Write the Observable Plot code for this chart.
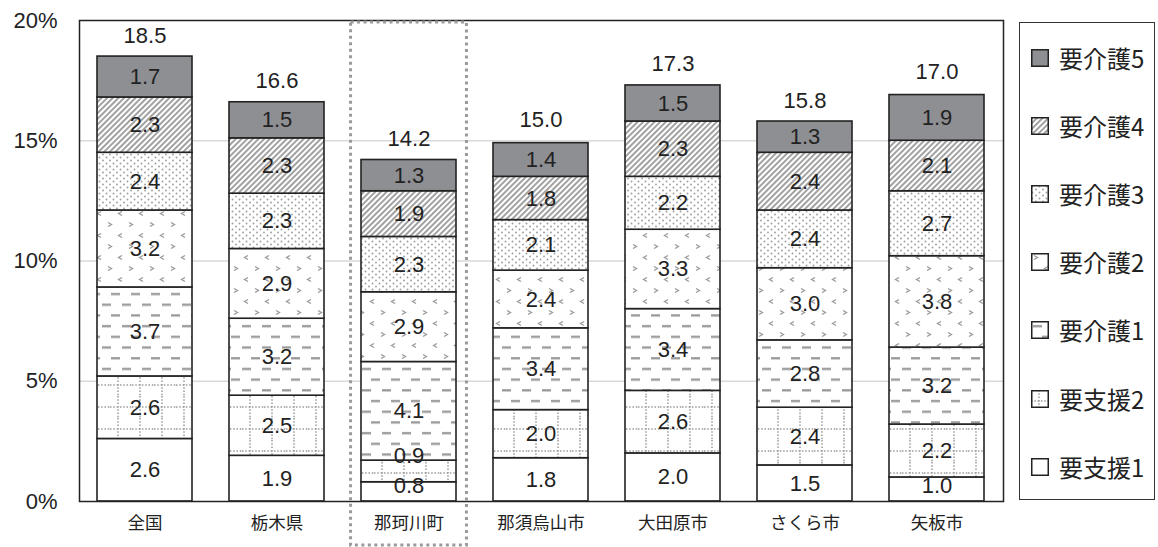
<!DOCTYPE html>
<html><head><meta charset="utf-8">
<script src="https://cdn.jsdelivr.net/npm/d3@7"></script>
<script src="https://cdn.jsdelivr.net/npm/@observablehq/plot@0.6"></script>
<style>
body{margin:0;background:#fff;}
#wrap{position:relative;width:1158px;height:547px;font-family:"Liberation Sans","Noto Sans CJK JP",Arial,sans-serif;color:#222;}
#legend{position:absolute;left:1019px;top:22px;width:136px;height:478px;border:1.5px solid #333;box-sizing:border-box;}
.li{position:absolute;left:11px;height:24px;display:flex;align-items:center;font-size:24px;line-height:24px;font-family:"Noto Sans CJK JP","Liberation Sans",sans-serif;}
.li svg{margin-right:10px;flex:none;}
</style>
</head><body>
<div id="wrap"><div id="legend"></div></div>
<script>
// ---- data ----
const regions = ["全国","栃木県","那珂川町","那須烏山市","大田原市","さくら市","矢板市"];
const levels = ["要支援1","要支援2","要介護1","要介護2","要介護3","要介護4","要介護5"]; // bottom -> top
const s_shien1 = [2.6, 1.9, 0.8, 1.8, 2.0, 1.5, 1.0];
const s_shien2 = [2.6, 2.5, 0.9, 2.0, 2.6, 2.4, 2.2];
const s_kaigo1 = [3.7, 3.2, 4.1, 3.4, 3.4, 2.8, 3.2];
const s_kaigo2 = [3.2, 2.9, 2.9, 2.4, 3.3, 3.0, 3.8];
const s_kaigo3 = [2.4, 2.3, 2.3, 2.1, 2.2, 2.4, 2.7];
const s_kaigo4 = [2.3, 2.3, 1.9, 1.8, 2.3, 2.4, 2.1];
const s_kaigo5 = [1.7, 1.5, 1.3, 1.4, 1.5, 1.3, 1.9];
const totals   = [18.5, 16.6, 14.2, 15.0, 17.3, 15.8, 17.0];
const highlight = "那珂川町";
const yTicks = [0, 5, 10, 15, 20];

const series = [s_shien1, s_shien2, s_kaigo1, s_kaigo2, s_kaigo3, s_kaigo4, s_kaigo5];
const rows = [];
levels.forEach((lv, li) => regions.forEach((r, ri) => rows.push({region: r, level: lv, value: series[li][ri]})));
const totalRows = regions.map((r, i) => ({region: r, total: totals[i]}));

const W = 1158, H = 547, mL = 79, mR = 155, mT = 20, mB = 46;
const yDomain = [0, 20];
const fills = ["#ffffff", "url(#pS2)", "url(#pK1)", "url(#pK2)", "url(#pK3)", "url(#pK4)", "#8e8f93"];
const FONT = '"Liberation Sans","Noto Sans CJK JP",Arial,sans-serif';

// ---- label placement: centred in segment, kept inside the bar, pushed up on overlap ----
const yScale = Plot.scale({y: {domain: yDomain, range: [H - mB, mT]}});
const LABEL_H = 28, GAP = 4;
const labelRows = [];
regions.forEach((r, ri) => {
  let base = 0;
  let limit = yScale.apply(0);
  levels.forEach((lv, li) => {
    const v = series[li][ri];
    const mid = yScale.apply(base + v / 2);
    const target = Math.min(mid, limit - LABEL_H / 2 - GAP / 2);
    limit = target - LABEL_H / 2;
    labelRows.push({region: r, level: lv, value: v, ly: yScale.invert(target)});
    base += v;
  });
});

const plot = Plot.plot({
  width: W, height: H,
  marginLeft: mL, marginRight: mR, marginTop: mT, marginBottom: mB,
  style: {fontFamily: FONT, color: "#222", background: "transparent"},
  x: {domain: regions, paddingInner: 0.28, paddingOuter: 0.14, label: null},
  y: {domain: yDomain, label: null},
  color: {type: "ordinal", domain: levels, range: fills},
  marks: [
    Plot.ruleY([5, 10, 15], {stroke: "#d9d9d9", strokeWidth: 1.5}),
    Plot.axisY(yTicks, {tickFormat: d => d + "%", tickSize: 0, tickPadding: 22, fontSize: 22, label: null}),
    Plot.axisX({tickSize: 0, tickPadding: 15, fontSize: 17.5, label: null, fontFamily: '"Noto Sans CJK JP",sans-serif'}),
    Plot.barY(rows, Plot.stackY({x: "region", y: "value", fill: "level", order: levels, stroke: "#222", strokeWidth: 1.6})),
    Plot.text(labelRows, {x: "region", y: "ly", text: d => d.value.toFixed(1), fontSize: 22, fill: "#222", ariaLabel: "seg-labels"}),
    Plot.text(totalRows, {x: "region", y: "total", dy: -21, text: d => d.total.toFixed(1), fontSize: 22, fill: "#222"}),
    Plot.frame({stroke: "#222", strokeWidth: 1.5})
  ]
});
document.getElementById("wrap").prepend(plot);

// ---- patterns ----
const svg = d3.select(plot);
const defs = svg.insert("defs", ":first-child");
// 要支援2: dotted grid
let p = defs.append("pattern").attr("id", "pS2").attr("patternUnits", "userSpaceOnUse").attr("width", 22).attr("height", 22);
p.append("rect").attr("width", 22).attr("height", 22).attr("fill", "#fff");
p.append("line").attr("x1", 0).attr("y1", 11).attr("x2", 22).attr("y2", 11).attr("stroke", "#9a9a9a").attr("stroke-width", 1.5).attr("stroke-dasharray", "1.5 1.8");
p.append("line").attr("x1", 8).attr("y1", 0).attr("x2", 8).attr("y2", 22).attr("stroke", "#9a9a9a").attr("stroke-width", 1.5).attr("stroke-dasharray", "1.5 1.8");
// 要介護1: dashes
p = defs.append("pattern").attr("id", "pK1").attr("patternUnits", "userSpaceOnUse").attr("width", 20).attr("height", 21.4);
p.append("rect").attr("width", 20).attr("height", 21.4).attr("fill", "#fff");
p.append("rect").attr("x", 2).attr("y", 4).attr("width", 9).attr("height", 2.3).attr("fill", "#999");
p.append("rect").attr("x", 11).attr("y", 14.7).attr("width", 9).attr("height", 2.3).attr("fill", "#999");
// 要介護2: chevrons
p = defs.append("pattern").attr("id", "pK2").attr("patternUnits", "userSpaceOnUse").attr("width", 21).attr("height", 22);
p.append("rect").attr("width", 21).attr("height", 22).attr("fill", "#fff");
p.append("path").attr("d", "M3,2.5 L6.5,4.5 L3,6.5").attr("fill", "none").attr("stroke", "#999").attr("stroke-width", 1.3);
p.append("path").attr("d", "M17,13.5 L13.5,15.5 L17,17.5").attr("fill", "none").attr("stroke", "#999").attr("stroke-width", 1.3);
// 要介護3: dots
p = defs.append("pattern").attr("id", "pK3").attr("patternUnits", "userSpaceOnUse").attr("width", 7).attr("height", 6);
p.append("rect").attr("width", 7).attr("height", 6).attr("fill", "#fff");
p.append("circle").attr("cx", 1.5).attr("cy", 1.5).attr("r", 0.95).attr("fill", "#a0a0a0");
p.append("circle").attr("cx", 5).attr("cy", 4.5).attr("r", 0.95).attr("fill", "#a0a0a0");
// 要介護4: diagonal hatch
p = defs.append("pattern").attr("id", "pK4").attr("patternUnits", "userSpaceOnUse").attr("width", 4).attr("height", 4).attr("patternTransform", "rotate(45)");
p.append("rect").attr("width", 4).attr("height", 4).attr("fill", "#fff");
p.append("line").attr("x1", 1).attr("y1", 0).attr("x2", 1).attr("y2", 4).attr("stroke", "#8a8a8a").attr("stroke-width", 1.6);

// ---- white boxes behind segment labels ----
svg.selectAll('g[aria-label="seg-labels"] text').each(function() {
  const bb = this.getBBox();
  const r = document.createElementNS("http://www.w3.org/2000/svg", "rect");
  const padX = 3, padY = 1.5;
  r.setAttribute("x", bb.x - padX); r.setAttribute("y", bb.y - padY);
  r.setAttribute("width", bb.width + 2 * padX); r.setAttribute("height", bb.height + 2 * padY);
  r.setAttribute("fill", "#fff"); r.setAttribute("stroke", "none");
  const t = this.getAttribute("transform"); if (t) r.setAttribute("transform", t);
  this.parentNode.insertBefore(r, this);
});

// ---- highlight box (from scales) ----
const xs = plot.scale("x"), ys = plot.scale("y");
const cx = xs.apply(highlight) + xs.bandwidth / 2;
const halfW = xs.bandwidth * 0.61;
svg.append("rect")
  .attr("x", cx - halfW).attr("y", ys.apply(20) + 2)
  .attr("width", 2 * halfW).attr("height", ys.apply(0) - ys.apply(20) + 42)
  .attr("fill", "none").attr("stroke", "#9a9a9a").attr("stroke-width", 3).attr("stroke-dasharray", "3 3.5");

// ---- legend ----
const lg = document.getElementById("legend");
levels.slice().reverse().forEach((lv, i) => {
  const idx = levels.indexOf(lv);
  const div = document.createElement("div");
  div.className = "li";
  div.style.top = (36 + i * 68.2 - 12 - 1.5) + "px";
  div.innerHTML = `<svg width="18" height="18"><rect x="0.75" y="0.75" width="16.5" height="16.5" fill="${fills[idx]}" stroke="#222" stroke-width="1.5"/></svg><span>${lv}</span>`;
  lg.appendChild(div);
});
</script>
</body></html>
